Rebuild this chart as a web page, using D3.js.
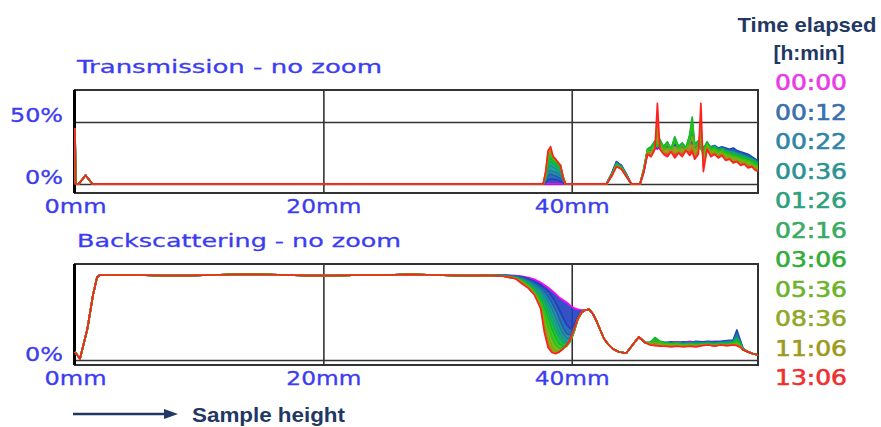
<!DOCTYPE html>
<html><head><meta charset="utf-8">
<script src="https://cdn.jsdelivr.net/npm/d3@7"></script>
<style>
html,body{margin:0;padding:0;background:#fff;}
svg{display:block;}
</style></head>
<body>
<svg id="chart" width="881" height="427"></svg>
<script>
// ---------- DATA ----------
const times = ["00:00","00:12","00:22","00:36","01:26","02:16","03:06","05:36","08:36","11:06","13:06"];
const lineColors = ["#ff00ff","#1f3fbf","#1a5fb0","#1a80a0","#109a8a","#10aa60","#10b830","#30c010","#70b010","#a09010","#ff2020"];
const legendColors = ["#e83ce8","#3a6fb0","#2f86a6","#2b9394","#2ea07e","#3aab62","#33ad3a","#6cb32b","#8fa82a","#9c9a22","#ef3030"];
const xTicks = [0, 20, 40];
const tYTicks = [0, 50];
const bYTicks = [0];

// Transmission (%), sample height in mm
const tLeadX = [0, 0.05, 0.3, 0.85, 1.4, 2, 10, 20, 30, 37.5];
const tLead  = [45, 0, 0, 7, 0, 0, 0, 0, 0, 0];
const tPeakX = [37.7, 37.9, 38.1, 38.3, 38.5, 38.7, 38.9, 39.1, 39.3, 39.5];
const tPeak = [
  [0,0,0,0,0,0,0,0,0,0],
  [0,1,3,4,4,3.5,3,2,1,0],
  [0,2,6,8,7,6.5,5.5,4,2,0],
  [0,3,9,11,10,9.5,8.5,6.5,3,0],
  [0,4,12,15,13.5,12.5,11,9,4,0],
  [0,5,15,18,16,15,13.5,11,5,0],
  [0,6,18,21,18.5,17,15.5,12.5,5.5,0],
  [0,7,21,24,20,18.5,17,14,6,0],
  [0,8,24,26,21,19,17.5,14.5,6,0],
  [0,9,26,28,22,20,17.5,15,5.5,0],
  [0,10,27,30,22,20,17,15,5,0]
];
const tBumpX = [40, 42.5, 42.8, 43.2, 43.6, 44.0, 44.4, 44.8, 45.5];
const tBump = [
  [0,0,0,8,17.5,15,7.5,0,0],
  [0,0,0,8,18,15,8,0,0],
  [0,0,0,8,17.5,14.5,7.5,0,0],
  [0,0,0,7.5,17,14.5,7.5,0,0],
  [0,0,0,7.5,16.5,14,7,0,0],
  [0,0,0,7,16,13.5,7,0,0],
  [0,0,0,7,15.5,13,6.5,0,0],
  [0,0,0,6.5,15,13,6.5,0,0],
  [0,0,0,6.5,14.5,12.5,6,0,0],
  [0,0,0,6,14,12,6,0,0],
  [0,0,0,6,14,12,6,0,0]
];
const tTailX = [45.8,46.1,46.4,46.7,46.9,47.1,47.4,47.7,48.0,48.3,48.6,48.9,49.2,49.5,49.7,49.9,50.2,50.4,50.6,50.9,51.2,51.5,51.8,52.1,52.4,52.7,53.0,53.3,53.6,53.9,54.2,54.5,54.8,55.0];
const tTail = [
  [9,25,27,29,28,30,28,29,27,31,29,30,28,32,33,29,30,28,29,30,29,30,28,29,28,27,28,26,25,24,23,21,19,17],
  [10,26,28,30,29,31,29,30,28,32,30,31,29,33,34,30,31,29,30,31,30,31,29,30,29,28,29,27,26,25,24,22,20,18],
  [10,26,28.5,31,29.5,32,29,31,28,33,30,31.5,29,34,37,30.5,32,29.5,29.5,31.5,29.5,30.5,28.5,29.5,28,27,27.5,26,25,24,23,21,19.5,17.5],
  [11,27,29,32,30,33,29.5,32,28,34,30,32,29,35,41,31,33,29.5,29,32,29.5,30.5,28,29,27.5,26.5,26.5,25,24,23,22,20.5,19,17],
  [11,27,29.5,33,31,34,30,33,28,36,30,32.5,29,37,46,31.5,34,30,28.5,33,29,30,27.5,28.5,27,26,25.5,24.5,23.5,22.5,21,20,18,16.5],
  [12,28,30,34,31.5,35,30,33.5,28,37,30,33,29,38.5,50,32,34.5,30,28,33.5,29,30,27,28,26.5,25.5,24.5,23.5,22.5,21.5,20.5,19.5,17.5,16],
  [12,28,30,35,32,36,30,34,28,38,30,33,29,40,54,32,35,30,28,34,29,30,27,28,26,25,24,23,22,21,20,19,17,16],
  [11.5,27,28,32,30,34,28,32,27,35,28.5,31,28,37,48,30,33,28,25,32,27,28.5,25.5,27,24.5,24,22.5,22,20.5,20,18.5,17.5,15.5,14.5],
  [11,26,26,31,34,32,27,29,27,30,27,28,28,32,38,27,31,35,20,31,26,27,24,26,22.5,22.5,20.5,20.5,18,18.5,16,16,13.5,12.5],
  [10.5,25,24,29,45,30,25.5,25,26.5,25,26,25,27.5,27,31,23,27.5,48,14,29.5,24,25.5,22.5,24.5,20.5,21,18.5,19,16.5,17,14.5,15,12,11],
  [10,24,22,28,65,28,24,22,26,21,25,22,27,23,26,20,24,65,10,28,22,24,21,23,19,20,17,18,15,16,13,14,11,10]
];

// Backscattering (%), sample height in mm
const bLeadX = [0,0.4,1.0,1.45,1.77,2.0,3,5,7,9,11,13,15,17,19,21,23,25,27,29,31,32.5];
const bLead  = [6.4,1,25,52,66,68,68,68,67.5,67.5,68,68.5,68.5,68,67.5,67.5,68,68,68.5,68,67.5,67.5];
const bDipX = [33.5,34.5,35.5,36,36.5,37,37.5,37.8,38.1,38.4,38.7,39,39.3,39.6,39.9,40.2,40.5,40.8,41.1];
const bDip = [
  [68,68,67.5,67,66,64.5,62,60,58,55.5,53,50,48,46,43.5,41.5,40.5,40,40],
  [68,68,67,66.5,65,63,60,57.5,55,51,46,40,34,28,25,28,35,39,40],
  [68,67.5,67,66,64,61.5,58,55,51,46,40,33,26,21,20,25,34,39,40],
  [68,67.5,66.5,65,63,60,56,52,47,41,34,27,21,17,17.5,24,33.5,38.5,40],
  [68,67.5,66,64.5,62,58.5,53.5,49,43,36,29,22,17,14,15.5,23,33.5,38.5,40],
  [68,67.5,66,64,61,57,51,46,39,31,24,18,14,12.5,15,23,33,38.5,40],
  [67.5,67,65.5,63.5,60,55.5,48.5,42,34,25,18,13,11,11.5,15,23,33,38,40],
  [67.5,67,65.5,63,59.5,54.5,46,37,27,18,12,9.5,9.5,11,15,23.5,33,38,40],
  [67.5,67,65,62.5,59,53.5,44,31,19,11,7.5,7.5,9,11.5,16,24,33,38,40],
  [67.5,67,65,62,58,53,42.5,26,13,7.5,5.5,6.5,9,12,16.5,24.5,33,38,40],
  [67.5,67,65,61,57.5,52,41,22,10,6,5,6.5,9,12,17,25,33,38,40]
];
const bMidX = [41.4,41.7,42.0,42.3,42.6,42.9,43.3,43.8,44.4,44.9,45.4,45.9];
const bMid  = [40.5,37,31,24,17,13,9,6.4,5.6,12,18.4,14];
const bTailX = [46.3,46.7,47.1,47.5,48,48.5,49,49.5,50,50.5,51,51.5,52,52.5,53,53.3,53.6,53.8,54.2,54.6,55];
const bTail = [
  [13,13.5,14,13.5,14,14.5,14,15,14,14.5,14,15,14.5,15,15.5,20,14,9,6.5,5,4],
  [13.5,14,14.5,14,14.5,14,14.5,14,15,14.5,15,14.5,15,15.5,16,24,15,9,6.5,5,4],
  [13.5,14.5,14,14,14,13.5,14,14,14.5,14,14.5,14,14.5,15,15.5,22,14,9,6.5,5,4],
  [14,15,14,13.5,13.5,13.5,13.5,13.5,14,13.5,14,13.5,14,14.5,15,20,13.5,8.5,6.5,5,4],
  [14,16,14.5,13.5,13,13.5,13,13.5,13.5,13.5,13.5,13,13.5,14,14.5,18,13,8.5,6.5,5,4],
  [14,17,15,14,13,13.5,12.5,13,13,13,13.5,13,13.5,13.5,14,17,12.5,8.5,6.5,5,4],
  [14,18,15,14,13,13.5,12,13,12.5,13,13,12.5,13,13,14,16,12,8.5,6.5,5,4],
  [13.5,16,14,13,12.5,13,12,12.5,12,12.5,12.5,12,12.5,12.5,13,14.5,11.5,8,6.5,5,4],
  [13,14,13,12,12,12,11.5,12,11.5,12,12,11.5,12,12,12.5,13,11,8,6.5,5,4],
  [12.5,12.5,12,11.5,11,11.5,11,11.5,11,12,12,11.5,12,11.5,12,12,10.5,8,6.5,5,4],
  [12,11.5,11,11,10.5,11,10.4,11,10.5,11.5,12,11,12,11.5,12,11.5,10,8,6.5,5,4]
];

// ---------- BUILD ----------
const svg = d3.select("#chart");
const blue = "#3c3cf0";
const navy = "#1f3864";
const gridC = "#333";

const x = d3.scaleLinear([0, 55], [75, 758]);
const yT = d3.scaleLinear([-7.3, 75.8], [193, 90]);
const yB = d3.scaleLinear([-4, 76.8], [365, 264]);

const tX = tLeadX.concat(tPeakX, tBumpX, tTailX);
const tSeries = times.map((t, i) => tX.map((xv, j) => [xv, tLead.concat(tPeak[i], tBump[i], tTail[i])[j]]));
const bX = bLeadX.concat(bDipX, bMidX, bTailX);
const bSeries = times.map((t, i) => bX.map((xv, j) => [xv, bLead.concat(bDip[i], bMid, bTail[i])[j]]));

function panel(y, series, yTicks, title, titleLen, clipId) {
  const [y0, y1] = y.range(); // bottom, top
  const x0 = x.range()[0], x1 = x.range()[1];
  const g = svg.append("g");
  g.append("defs").append("clipPath").attr("id", clipId)
    .append("rect").attr("x", x0 - 1).attr("y", y1).attr("width", x1 - x0 + 1).attr("height", y0 - y1);

  // title
  svg.append("text").attr("x", 77).attr("y", y1 - 17)
    .attr("font-family", "DejaVu Sans, Verdana, sans-serif").attr("font-size", 18)
    .attr("fill", blue).attr("stroke", blue).attr("stroke-width", 0.3)
    .attr("textLength", titleLen).attr("lengthAdjust", "spacingAndGlyphs")
    .text(title);

  // horizontal grid
  g.append("g").attr("transform", `translate(${x0},0)`)
    .call(d3.axisLeft(y).tickValues(yTicks).tickSize(-(x1 - x0)).tickFormat(""))
    .call(s => s.select(".domain").remove())
    .call(s => s.selectAll("line").attr("stroke", gridC).attr("stroke-width", 1.6));
  // vertical grid
  g.append("g").attr("transform", `translate(0,${y0})`)
    .call(d3.axisBottom(x).tickValues([20, 40]).tickSize(-(y0 - y1)).tickFormat(""))
    .call(s => s.select(".domain").remove())
    .call(s => s.selectAll("line").attr("stroke", gridC).attr("stroke-width", 1.6));

  // frame
  g.append("rect").attr("x", x0).attr("y", y1).attr("width", x1 - x0).attr("height", y0 - y1)
    .attr("fill", "none").attr("stroke", gridC).attr("stroke-width", 2);
  g.append("line").attr("x1", x0 - 0.5).attr("x2", x0 - 0.5).attr("y1", y1).attr("y2", y0)
    .attr("stroke", "#000").attr("stroke-width", 3);

  const dg = g.append("g").attr("clip-path", `url(#${clipId})`);
  // colour bands between consecutive series
  for (let i = 1; i < series.length; i++) {
    const area = d3.area().x(d => x(d[0])).y0((d, j) => y(series[i - 1][j][1])).y1(d => y(d[1]));
    dg.append("path").datum(series[i]).attr("d", area).attr("fill", lineColors[i]).attr("opacity", 0.9);
  }
  const line = d3.line().x(d => x(d[0])).y(d => y(d[1]));
  series.forEach((s, i) => {
    dg.append("path").datum(s).attr("d", line).attr("fill", "none")
      .attr("stroke", lineColors[i]).attr("stroke-width", 1.7).attr("stroke-linejoin", "round");
  });

  // y labels
  const ya = g.append("g").attr("transform", `translate(${x0},0)`)
    .call(d3.axisLeft(y).tickValues(yTicks).tickFormat(d => d + "%").tickSize(0).tickPadding(12));
  ya.select(".domain").remove();
  ya.selectAll("text").attr("dy", "0").attr("fill", blue).attr("stroke", blue).attr("stroke-width", 0.3)
    .attr("font-family", "DejaVu Sans, Verdana, sans-serif").attr("font-size", 19)
    .attr("textLength", d => d === 0 ? 38 : 53).attr("lengthAdjust", "spacingAndGlyphs");

  // x labels
  const xa = g.append("g").attr("transform", `translate(0,${y0})`)
    .call(d3.axisBottom(x).tickValues(xTicks).tickFormat(d => d + "mm").tickSize(0));
  xa.select(".domain").remove();
  xa.selectAll("text").attr("y", 20).attr("dy", "0").attr("fill", blue).attr("stroke", blue).attr("stroke-width", 0.3)
    .attr("font-family", "DejaVu Sans, Verdana, sans-serif").attr("font-size", 19)
    .attr("textLength", d => d === 0 ? 62 : 75).attr("lengthAdjust", "spacingAndGlyphs");
}

panel(yT, tSeries, tYTicks, "Transmission - no zoom", 305, "clipT");
panel(yB, bSeries, bYTicks, "Backscattering - no zoom", 324, "clipB");

// legend
const lg = svg.append("g");
lg.append("text").attr("x", 807).attr("y", 32).attr("text-anchor", "middle")
  .attr("font-family", "Liberation Sans, Arial, sans-serif").attr("font-weight", "bold")
  .attr("font-size", 21).attr("fill", navy).attr("textLength", 139).attr("lengthAdjust", "spacingAndGlyphs")
  .text("Time elapsed");
lg.append("text").attr("x", 809).attr("y", 60).attr("text-anchor", "middle")
  .attr("font-family", "Liberation Sans, Arial, sans-serif").attr("font-weight", "bold")
  .attr("font-size", 21).attr("fill", navy)
  .text("[h:min]");
lg.selectAll("text.item").data(times).join("text").attr("class", "item")
  .attr("x", 775).attr("y", (d, i) => 90 + i * 29.5)
  .attr("font-family", "DejaVu Sans, Verdana, sans-serif").attr("font-size", 21)
  .attr("fill", (d, i) => legendColors[i]).attr("stroke", (d, i) => legendColors[i]).attr("stroke-width", 0.6)
  .attr("textLength", 72).attr("lengthAdjust", "spacingAndGlyphs")
  .text(d => d);

// sample height arrow
svg.append("line").attr("x1", 73).attr("x2", 168).attr("y1", 414).attr("y2", 414)
  .attr("stroke", navy).attr("stroke-width", 2.5);
svg.append("path").attr("d", "M164,409 L178,414 L164,419 Z").attr("fill", navy);
svg.append("text").attr("x", 192).attr("y", 422)
  .attr("font-family", "Liberation Sans, Arial, sans-serif").attr("font-weight", "bold")
  .attr("font-size", 21).attr("fill", navy).attr("textLength", 153).attr("lengthAdjust", "spacingAndGlyphs")
  .text("Sample height");
</script>
</body></html>
